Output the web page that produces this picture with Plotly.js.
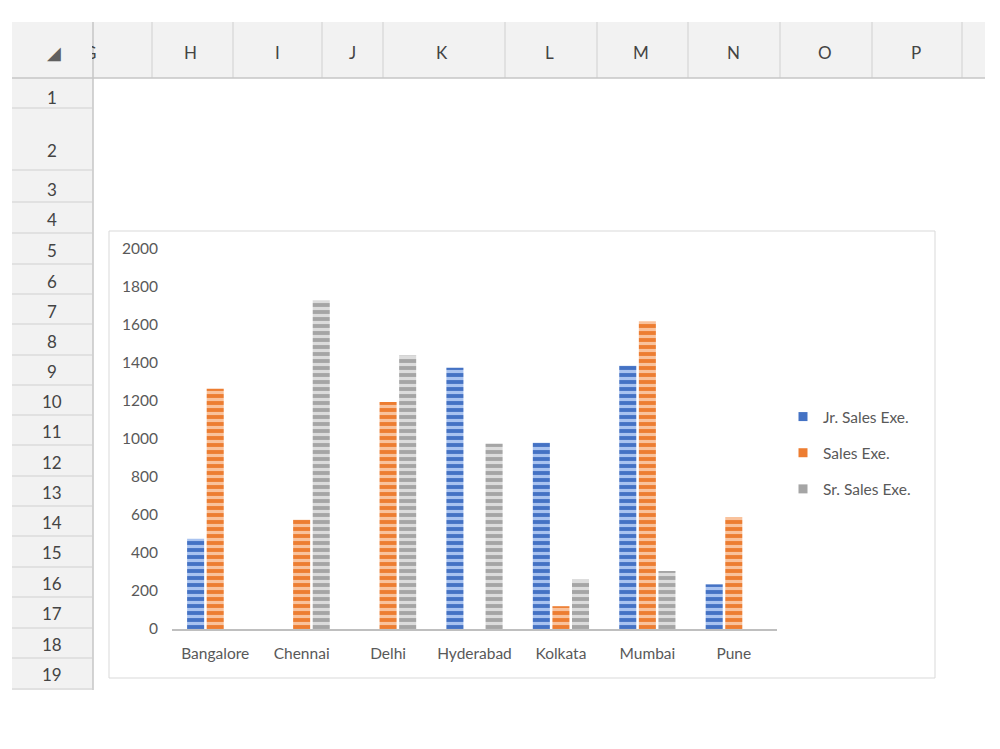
<!DOCTYPE html>
<html><head><meta charset="utf-8">
<script src="https://cdn.plot.ly/plotly-3.0.1.min.js"></script>
<style>html,body{margin:0;padding:0;background:#fff}#chart{width:1000px;height:749px}</style>
</head><body><div id="chart"></div>
<script>
// ---- data ----
const cities = ["Bangalore","Chennai","Delhi","Hyderabad","Kolkata","Mumbai","Pune"];
const seriesNames = ["Jr. Sales Exe.","Sales Exe.","Sr. Sales Exe."];
const jrSales = [475, null, null, 1375, 980, 1385, 235];
const salesExe = [1265, 575, 1195, null, 120, 1620, 590];
const srSales = [null, 1730, 1440, 975, 260, 305, null];
const yTicks = [0,200,400,600,800,1000,1200,1400,1600,1800,2000];
const columnLetters = ["H","I","J","K","L","M","N","O","P"];
const rowNumbers = ["1","2","3","4","5","6","7","8","9","10","11","12","13","14","15","16","17","18","19"];

// ---- styling ----
const dark = ["#4472C4","#ED7D31","#A5A5A5"];
const light = ["#A9C3F0","#F9C29C","#DCDCDC"];
const L=172,R=777,T=249,B=629;
const px = x => (x-L)/(R-L);
const py = y => (B-y)/(B-T);

const values = [jrSales, salesExe, srSales];
const traces = values.map((v,i)=>({
  type:'bar', x:cities, y:v, name:seriesNames[i], showlegend:false,
  marker:{color:dark[i], line:{width:0},
    pattern:{shape:'-', fgcolor:light[i], bgcolor:dark[i], size:7, solidity:0.45, fillmode:'replace'}},
  hoverinfo:'x+y+name'
}));
seriesNames.forEach((n,i)=>traces.push({
  type:'scatter', mode:'markers', x:[null], y:[null], name:n, legendgroup:'g'+i,
  marker:{symbol:'square', size:9, color:dark[i]}
}));

const shapes = [];
const annotations = [];
const gridLine = '#D0D0D0';
// header row and row-header column
shapes.push({type:'rect',xref:'paper',yref:'paper',x0:px(12),x1:px(985),y0:py(22),y1:py(78),fillcolor:'#F2F2F2',line:{width:0},layer:'below'});
shapes.push({type:'rect',xref:'paper',yref:'paper',x0:px(12),x1:px(93),y0:py(78),y1:py(690),fillcolor:'#F2F2F2',line:{width:0},layer:'below'});
[152,233,322,383,505,597,688,780,872,962].forEach(x=>shapes.push({type:'line',xref:'paper',yref:'paper',x0:px(x),x1:px(x),y0:py(22),y1:py(78),line:{color:gridLine,width:1},layer:'below'}));
shapes.push({type:'line',xref:'paper',yref:'paper',x0:px(93),x1:px(93),y0:py(22),y1:py(690),line:{color:'#C6C6C6',width:1.5},layer:'below'});
shapes.push({type:'line',xref:'paper',yref:'paper',x0:px(12),x1:px(985),y0:py(78),y1:py(78),line:{color:'#C6C6C6',width:1.5},layer:'below'});
[108,170,202,233,264,294,324,355,385,415,445,476,506,536,567,597,628,658,689].forEach(y=>shapes.push({type:'line',xref:'paper',yref:'paper',x0:px(12),x1:px(93),y0:py(y),y1:py(y),line:{color:gridLine,width:1},layer:'below'}));
// chart area border
shapes.push({type:'rect',xref:'paper',yref:'paper',x0:px(109),x1:px(935),y0:py(231),y1:py(678),fillcolor:'rgba(0,0,0,0)',line:{color:'#D9D9D9',width:1},layer:'below'});

const hdrFont = {family:'Lato, "Open Sans", sans-serif', size:17, color:'#444444'};
const colX = [190,277,352,442,549,641,733,825,916];
columnLetters.forEach((c,i)=>annotations.push({xref:'paper',yref:'paper',x:px(colX[i]),y:py(52),text:c,showarrow:false,font:hdrFont,xanchor:'center',yanchor:'middle'}));
// partial G column letter, covered by corner cell
annotations.push({xref:'paper',yref:'paper',x:px(90),y:py(52),text:'G',showarrow:false,font:hdrFont,xanchor:'center',yanchor:'middle'});
annotations.push({xref:'paper',yref:'paper',x:px(12),y:py(23),text:' ',showarrow:false,xanchor:'left',yanchor:'top',width:80,height:54,bgcolor:'#F2F2F2',borderpad:0,borderwidth:0,font:{size:10}});
annotations.push({xref:'paper',yref:'paper',x:px(54),y:py(52),text:'◢',showarrow:false,font:{family:'DejaVu Sans',size:18,color:'#606060'},xanchor:'center',yanchor:'middle'});
const rowY = [97,150,189,219,250,281,311,341,371,401,431,462,492,522,552,583,613,644,674];
rowNumbers.forEach((r,i)=>annotations.push({xref:'paper',yref:'paper',x:px(52),y:py(rowY[i]),text:r,showarrow:false,font:hdrFont,xanchor:'center',yanchor:'middle'}));

const txt = {family:'Lato, "Open Sans", sans-serif', size:15.5, color:'#595959'};
const layout = {
  width:1000, height:749,
  margin:{l:L, r:1000-R, t:T, b:749-B, pad:0},
  paper_bgcolor:'#FFFFFF', plot_bgcolor:'rgba(0,0,0,0)',
  barmode:'group', bargap:0.32, bargroupgap:0.13,
  font:txt,
  xaxis:{type:'category', showgrid:false, zeroline:false, showline:true, linecolor:'#BFBFBF', linewidth:1.5,
    ticks:'', ticklabelstandoff:10, tickfont:txt, fixedrange:true},
  yaxis:{range:[0,2000], tickvals:yTicks, ticktext:yTicks.map(String), showgrid:false, zeroline:false, showline:false,
    ticks:'', ticklabelstandoff:13, tickfont:txt, fixedrange:true},
  legend:{x:px(783), y:py(453), xanchor:'left', yanchor:'middle', font:txt, traceorder:'grouped', tracegroupgap:13,
    bgcolor:'rgba(0,0,0,0)', itemwidth:30},
  shapes, annotations
};
Plotly.newPlot('chart', traces, layout, {displayModeBar:false, staticPlot:true});
</script></body></html>
